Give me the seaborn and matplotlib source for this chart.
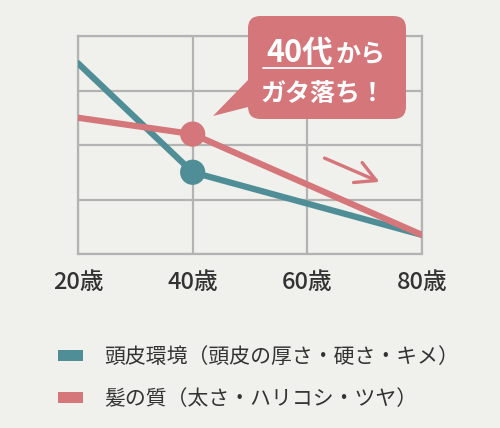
import numpy as np
import pandas as pd
import seaborn as sns
import matplotlib.pyplot as plt
from matplotlib.patches import FancyBboxPatch, Polygon, Patch
from matplotlib.lines import Line2D

# data (grid units, 0 = bottom, 4 = top)
ages = [20, 40, 80]
scalp = [3.5, 1.5, 0.35]
hair = [2.5, 2.2, 0.35]
tick_ages = [20, 40, 60, 80]
tick_labels = [f"{a}歳" for a in tick_ages]
series_names = ["頭皮環境（頭皮の厚さ・硬さ・キメ）", "髪の質（太さ・ハリコシ・ツヤ）"]
callout_head, callout_tail, callout_line2 = "40代", "から", "ガタ落ち！"

teal = "#4f8e96"
pink = "#d4767a"
bg = "#f0f0ec"
grid_col = "#b3b3b3"

df = pd.DataFrame({
    "age": ages * 2,
    "value": scalp + hair,
    "series": [series_names[0]] * len(ages) + [series_names[1]] * len(ages),
})

sns.set_theme(style="white")
plt.rcParams["font.family"] = ["Noto Sans CJK JP", "DejaVu Sans"]

W, H = 500, 428
fig = plt.figure(figsize=(W / 100, H / 100), dpi=100, facecolor=bg)
ax = fig.add_axes([78 / W, 1 - 254 / H, (422 - 78) / W, (254 - 36) / H])
ax.set_facecolor(bg)

palette = {series_names[0]: teal, series_names[1]: pink}
sns.lineplot(data=df, x="age", y="value", hue="series", palette=palette,
             linewidth=4.5, legend=False, ax=ax, zorder=3)
mid = df[df["age"] == 40]
sns.scatterplot(data=mid, x="age", y="value", hue="series", palette=palette,
                s=330, linewidth=0, legend=False, ax=ax, zorder=4)

ax.set_xlim(20, 80)
ax.set_ylim(0, 4)
ax.set_xticks(tick_ages)
ax.set_xticklabels(tick_labels)
ax.set_yticks(range(5))
ax.set_yticklabels([])
ax.grid(True, color=grid_col, linewidth=1.6)
for s in ax.spines.values():
    s.set_color(grid_col)
    s.set_linewidth(1.6)
ax.tick_params(axis="both", length=0)
ax.tick_params(axis="x", pad=12, labelsize=17, labelcolor="#333333")
for t in ax.get_xticklabels():
    t.set_fontweight("medium")
ax.set_xlabel("")
ax.set_ylabel("")


def px(x, y):
    # pixel coords from top-left to figure fraction
    return (x / W, 1 - y / H)


# callout bubble
bx0, by0, bx1, by1 = 248, 16, 406, 119
box = FancyBboxPatch(px(bx0, by1), (bx1 - bx0) / W, (by1 - by0) / H,
                     boxstyle="round,pad=0,rounding_size=0.025",
                     transform=fig.transFigure, facecolor=pink,
                     edgecolor="none", zorder=10, mutation_aspect=W / H)
fig.patches.append(box)
ptr = Polygon([px(213, 116), px(252, 76), px(252, 106)], closed=True,
              transform=fig.transFigure, facecolor=pink, edgecolor="none",
              zorder=10)
fig.patches.append(ptr)
fig.text(*px(333, 62), callout_head, color="white", fontsize=22,
         fontweight="bold", ha="right", va="baseline", zorder=11)
fig.text(*px(336, 62), callout_tail, color="white", fontsize=18,
         fontweight="bold", ha="left", va="baseline", zorder=11)
fig.text(*px(323, 101), callout_line2, color="white", fontsize=18,
         fontweight="bold", ha="center", va="baseline", zorder=11)
fig.add_artist(Line2D([263 / W, 333 / W], [1 - 68 / H, 1 - 68 / H],
                      color="white", linewidth=1.3, zorder=11))

# trend arrow
ax.annotate("", xy=(382, H - 183), xytext=(322, H - 157),
            xycoords="figure pixels", textcoords="figure pixels",
            arrowprops=dict(arrowstyle="->,head_length=1.2,head_width=0.65",
                            color=pink, linewidth=2.4))

# legend
handles = [Patch(facecolor=teal, edgecolor="none"),
           Patch(facecolor=pink, edgecolor="none")]
fig.legend(handles, series_names, loc="upper left",
           bbox_to_anchor=(39 / W, 1 - 327 / H), frameon=False,
           fontsize=15, handlelength=1.2, handleheight=0.43,
           handletextpad=1.05, labelspacing=0.95, labelcolor="#333333")

fig.savefig("out.png", dpi=100, facecolor=bg)
